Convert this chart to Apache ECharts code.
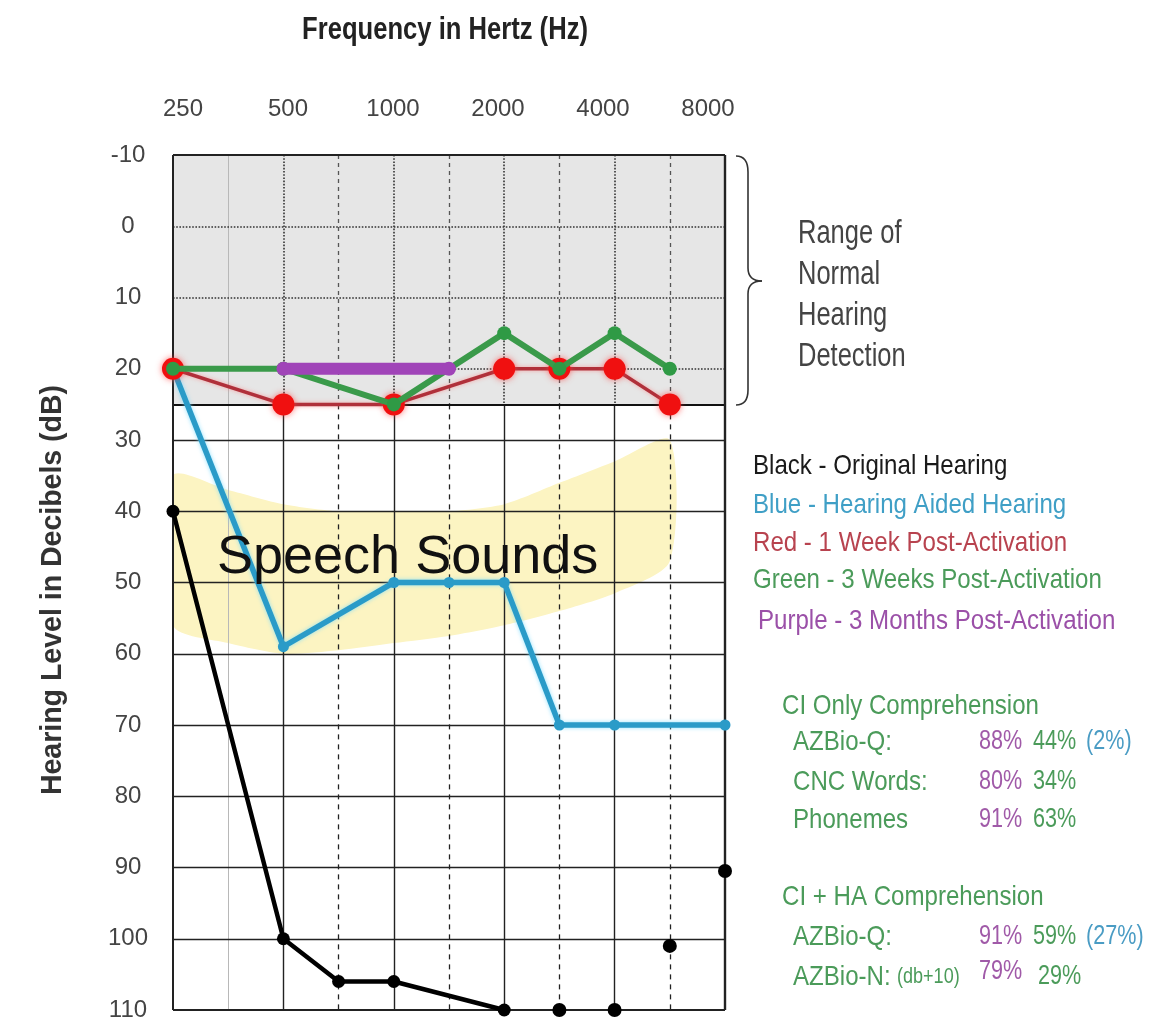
<!DOCTYPE html>
<html><head><meta charset="utf-8">
<script src="https://cdn.jsdelivr.net/npm/echarts@6/dist/echarts.min.js"></script>
<style>html,body{margin:0;padding:0;background:#fff}#c{width:1155px;height:1026px}</style>
</head><body><div id="c"></div><script>
// ---- data ----
const xFreqs = [250,375,500,750,1000,1500,2000,3000,4000,6000,8000]; // half-octave columns
const topLabels = ['250','500','1000','2000','4000','8000'];
const normalRange = [-10, 25];

const blackFreq = [250,500,750,1000,2000];
const blackDb   = [40,100,106,106,110];
const blackOnlyFreq = [3000,4000,6000,8000];
const blackOnlyDb   = [110,110,101,90.5];
const blueFreq = [250,500,1000,1500,2000,3000,4000,8000];
const blueDb   = [20,59,50,50,50,70,70,70];
const redFreq  = [250,500,1000,2000,3000,4000,6000];
const redDb    = [20,25,25,20,20,20,25];
const greenFreq = [250,500,1000,2000,3000,4000,6000];
const greenDb   = [20,20,25,15,20,15,20];
const purpleFreq = [500,1500];
const purpleDb   = [20,20];

const bananaFreq   = [250,375,500,750,1000,1500,2000,3000,4000,6000];
const bananaTop    = [35,37,39,40,40,40,39,36,33,30];
const bananaBottom = [56,58.5,60,59.5,58.5,57.5,56,54,51.5,47];

const legendLines = [
  ['Black - Original Hearing', '#1a1a1a', 753, 466],
  ['Blue - Hearing Aided Hearing', '#3f9fc6', 753, 505],
  ['Red - 1 Week Post-Activation', '#b8434f', 753, 543],
  ['Green - 3 Weeks Post-Activation', '#4b9b5a', 753, 580],
  ['Purple - 3 Months Post-Activation', '#9b50a8', 758, 621]
];
const compHeaders = [['CI Only Comprehension', 706], ['CI + HA Comprehension', 897]];
const compRows = [
  ['AZBio-Q:', 742, '88%', '44%', '(2%)'],
  ['CNC Words:', 782, '80%', '34%', ''],
  ['Phonemes', 820, '91%', '63%', ''],
  ['AZBio-Q:', 937, '91%', '59%', '(27%)'],
  ['AZBio-N:', 977, '79%', '29%', '']
];
const rangeText = ['Range of', 'Normal', 'Hearing', 'Detection'];

// ---- helpers ----
const ix = f => xFreqs.indexOf(f);
const pairs = (fs, ds) => fs.map((f, i) => [ix(f), ds[i]]);
const F = '"Liberation Sans", Arial, sans-serif';
const GREEN = '#4b9b5a', PURP = '#a05aa8', BLUE = '#4a9cc4';

// grid lines as markLine segments
const gl = [];
function seg(x1, y1, x2, y2, st) { gl.push([{ coord: [x1, y1], lineStyle: st }, { coord: [x2, y2] }]); }
const last = xFreqs.length - 1;
for (let k = 1; k < last; k++) {
  if (k === 1) { seg(k, -10, k, 110, { color: '#b8b8b8', width: 1, type: 'solid' }); continue; }
  if (k % 2 === 0) {
    seg(k, -10, k, 25, { color: '#333', width: 1.6, type: 'dotted' });
    seg(k, 25, k, 110, { color: '#222', width: 1.4, type: 'solid' });
  } else {
    seg(k, -10, k, 25, { color: '#555', width: 1.3, type: [4, 4] });
    seg(k, 25, k, 110, { color: '#222', width: 1.3, type: [5, 5] });
  }
}
[0, 10, 20].forEach(v => seg(0, v, last, v, { color: '#333', width: 1.6, type: 'dotted' }));
seg(0, 25, last, 25, { color: '#111', width: 2, type: 'solid' });
for (let v = 30; v <= 100; v += 10) seg(0, v, last, v, { color: '#222', width: 1.4, type: 'solid' });
seg(0, -10, last, -10, { color: '#222', width: 2, type: 'solid' });
seg(0, 110, last, 110, { color: '#222', width: 2, type: 'solid' });
seg(0, -10, 0, 110, { color: '#222', width: 2, type: 'solid' });
seg(last, -10, last, 110, { color: '#222', width: 2.4, type: 'solid' });

// ---- graphic texts ----
const G = [];
function txt(text, x, y, font, fill, extra) {
  G.push(Object.assign({ type: 'text', x: x, y: y, z: 100, silent: true,
    style: { text: text, font: font, fill: fill, textAlign: 'left', textVerticalAlign: 'middle' } }, extra || {}));
}
G.push({ type: 'text', x: 445, y: 30, z: 100, scaleX: 0.8,
  style: { text: 'Frequency in Hertz (Hz)', font: 'bold 32px ' + F, fill: '#222', textAlign: 'center', textVerticalAlign: 'middle' } });
G.push({ type: 'text', x: 53, y: 590, z: 100, rotation: Math.PI / 2, scaleX: 0.95,
  style: { text: 'Hearing Level in Decibels (dB)', font: 'bold 30px ' + F, fill: '#333', textAlign: 'center', textVerticalAlign: 'middle' } });
txt('Speech Sounds', 217, 558, '54px ' + F, '#111');
rangeText.forEach((t, i) => txt(t, 798, 234 + i * 41, '34px ' + F, '#444', { scaleX: 0.75 }));
legendLines.forEach(l => txt(l[0], l[2], l[3], '28px ' + F, l[1], { scaleX: 0.86 }));
compHeaders.forEach(h => txt(h[0], 782, h[1], '28px ' + F, GREEN, { scaleX: 0.86 }));
compRows.forEach((r, i) => {
  txt(r[0], 793, r[1], '28px ' + F, GREEN, { scaleX: 0.86 });
  if (i === 4) txt('(db+10)', 897, r[1], '22px ' + F, GREEN, { scaleX: 0.82 });
  txt(r[2], 979, i === 4 ? r[1] - 5 : r[1], '27px ' + F, PURP, { scaleX: 0.8 });
  txt(r[3], i === 4 ? 1038 : 1033, r[1], '27px ' + F, GREEN, { scaleX: 0.8 });
  if (r[4]) txt(r[4], 1086, r[1], '27px ' + F, BLUE, { scaleX: 0.8 });
});
// brace
const bs = { stroke: '#333', lineWidth: 1.6, fill: null };
G.push({ type: 'bezierCurve', z: 100, shape: { x1: 736, y1: 156, cpx1: 748, cpy1: 156, x2: 748, y2: 172 }, style: bs });
G.push({ type: 'line', z: 100, shape: { x1: 748, y1: 172, x2: 748, y2: 268 }, style: bs });
G.push({ type: 'bezierCurve', z: 100, shape: { x1: 748, y1: 268, cpx1: 748, cpy1: 281, x2: 762, y2: 281 }, style: bs });
G.push({ type: 'bezierCurve', z: 100, shape: { x1: 762, y1: 281, cpx1: 748, cpy1: 281, x2: 748, y2: 294 }, style: bs });
G.push({ type: 'line', z: 100, shape: { x1: 748, y1: 294, x2: 748, y2: 390 }, style: bs });
G.push({ type: 'bezierCurve', z: 100, shape: { x1: 748, y1: 390, cpx1: 748, cpy1: 405, x2: 736, y2: 405 }, style: bs });

const chart = echarts.init(document.getElementById('c'));
const labelFont = { fontFamily: '"Liberation Sans", sans-serif', fontSize: 24, color: '#444' };

chart.setOption({
  animation: false,
  backgroundColor: '#fff',
  grid: [
    { left: 173, right: 430, top: 155, bottom: 16 },
    { left: 183, width: 525, top: 133, height: 1 }
  ],
  xAxis: [
    { type: 'value', gridIndex: 0, min: 0, max: last, interval: 1, position: 'top',
      axisLine: { show: false }, axisTick: { show: false }, axisLabel: { show: false }, splitLine: { show: false } },
    { type: 'value', gridIndex: 1, min: 0, max: topLabels.length - 1, interval: 1, position: 'top',
      axisLine: { show: false }, axisTick: { show: false }, splitLine: { show: false },
      axisLabel: Object.assign({ margin: 12, formatter: v => topLabels[v] || '' }, labelFont) }
  ],
  yAxis: [
    { type: 'value', gridIndex: 0, inverse: true, min: -10, max: 110, interval: 10,
      axisLine: { show: false }, axisTick: { show: false }, splitLine: { show: false },
      axisLabel: Object.assign({ margin: 45, align: 'center' }, labelFont) },
    { type: 'value', gridIndex: 1, show: false }
  ],
  graphic: G,
  series: [
    { type: 'line', name: 'normal', z: 1, data: [[0, -10]], symbol: 'none', lineStyle: { opacity: 0 }, silent: true,
      markArea: { silent: true, z: 1, itemStyle: { color: '#e6e6e6' },
        data: [[{ coord: [0, normalRange[0]] }, { coord: [last, normalRange[1]] }]] } },
    { type: 'custom', name: 'banana', z: 2, silent: true, clip: true, data: [[0, 40]],
      renderItem: function (params, api) {
        const pts = [];
        bananaFreq.forEach((f, i) => pts.push(api.coord([ix(f), bananaTop[i]])));
        for (let i = bananaFreq.length - 1; i >= 0; i--) pts.push(api.coord([ix(bananaFreq[i]), bananaBottom[i]]));
        const cs = params.coordSys;
        return { type: 'group', clipPath: { type: 'rect', shape: { x: cs.x, y: cs.y, width: cs.width, height: cs.height } },
          children: [{ type: 'polygon', shape: { points: pts, smooth: 0.25 }, style: { fill: '#fcf4c2' } }] };
      } },
    { type: 'line', name: 'grid', z: 3, data: [[0, -10]], symbol: 'none', lineStyle: { opacity: 0 }, silent: true,
      markLine: { silent: true, z: 4, symbol: ['none', 'none'], label: { show: false }, animation: false, data: gl } },
    { type: 'line', name: 'Black', z: 10, clip: false, data: pairs(blackFreq, blackDb),
      symbol: 'circle', symbolSize: 13, itemStyle: { color: '#000' }, lineStyle: { color: '#000', width: 4.5 } },
    { type: 'scatter', name: 'BlackPts', z: 10, clip: false, data: pairs(blackOnlyFreq, blackOnlyDb),
      symbol: 'circle', symbolSize: 14, itemStyle: { color: '#000', opacity: 1 } },
    { type: 'line', name: 'Blue', z: 11, clip: false, data: pairs(blueFreq, blueDb),
      symbol: 'circle', symbolSize: 11, itemStyle: { color: '#2a9bc8' },
      lineStyle: { color: '#2a9bc8', width: 5.5, shadowColor: 'rgba(120,220,255,0.8)', shadowBlur: 4 } },
    { type: 'line', name: 'Red', z: 12, clip: false, data: pairs(redFreq, redDb),
      symbol: 'circle', symbolSize: 22, itemStyle: { color: '#f01010', shadowColor: 'rgba(255,60,60,0.7)', shadowBlur: 6 },
      lineStyle: { color: '#b0303a', width: 3.5, shadowColor: 'rgba(255,120,120,0.6)', shadowBlur: 4 } },
    { type: 'line', name: 'Green', z: 13, clip: false, data: pairs(greenFreq, greenDb),
      symbol: 'circle', symbolSize: 14, itemStyle: { color: '#2f9a45' },
      lineStyle: { color: '#3a9a4a', width: 6 } },
    { type: 'line', name: 'Purple', z: 14, clip: false, data: pairs(purpleFreq, purpleDb),
      symbol: 'circle', symbolSize: 14, itemStyle: { color: '#a044b8' },
      lineStyle: { color: '#a044b8', width: 12, cap: 'round' } }
  ]
});
</script></body></html>
